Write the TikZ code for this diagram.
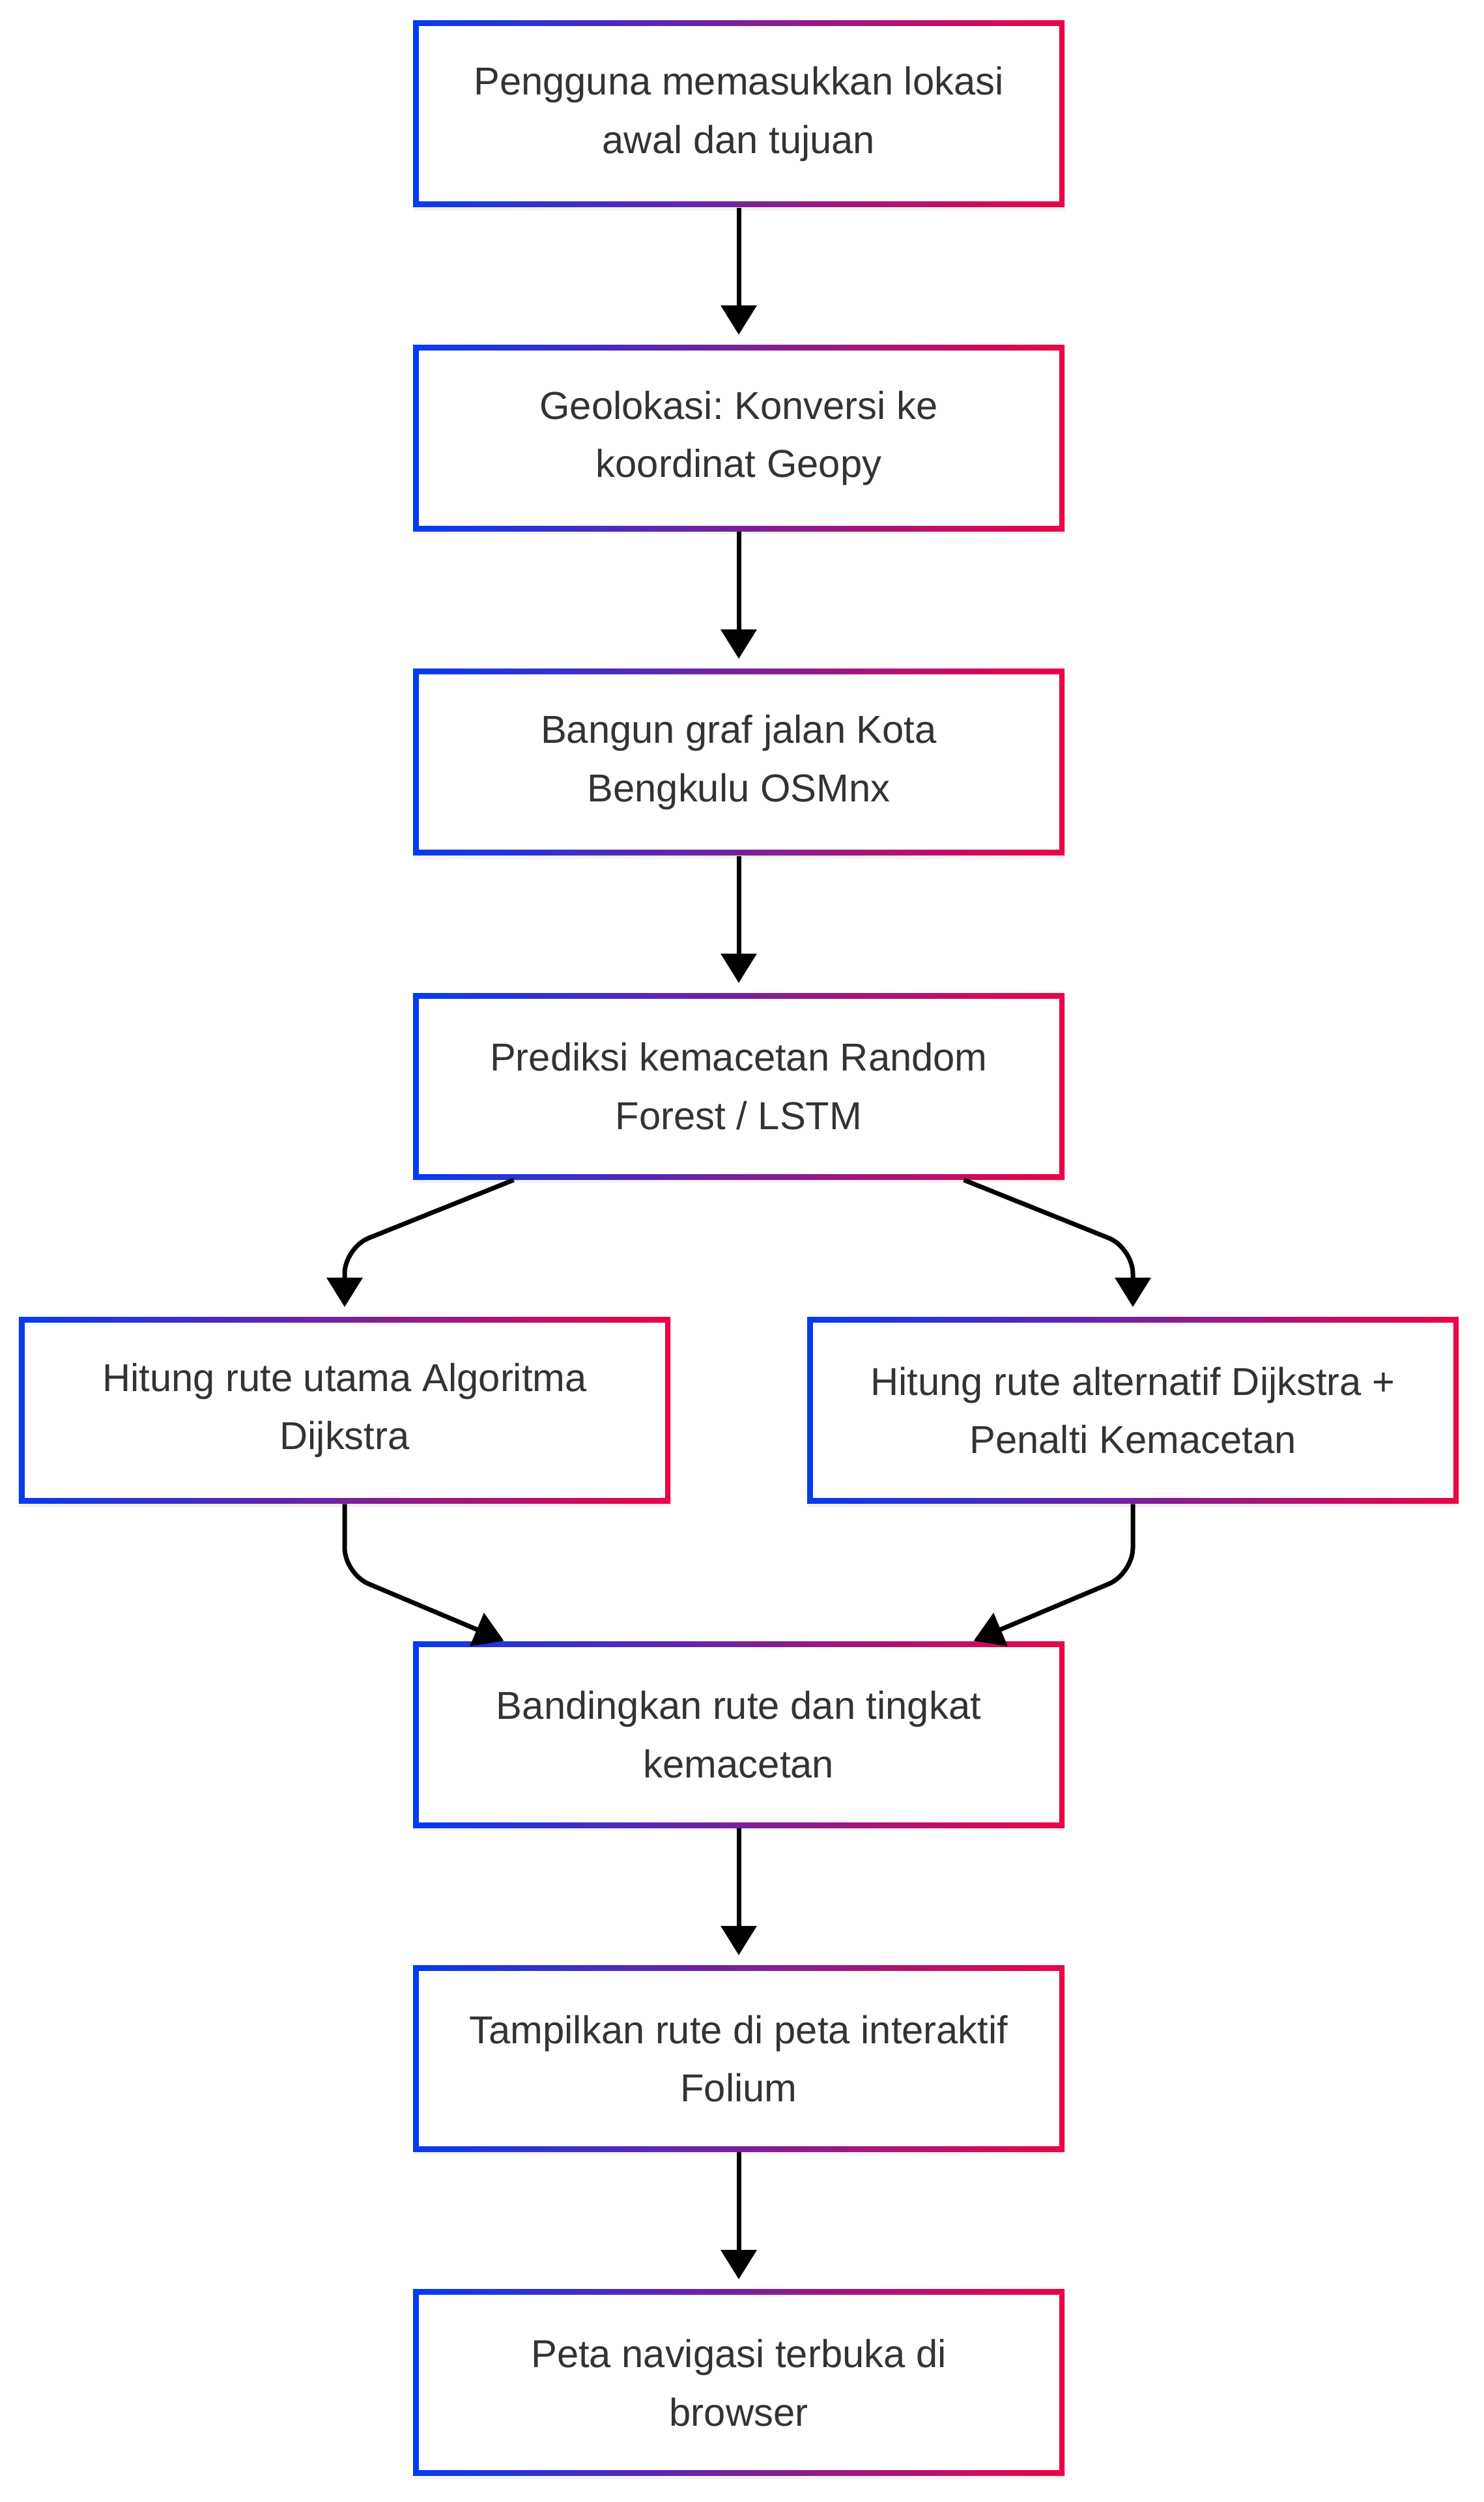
\documentclass[tikz,border=0pt]{standalone}
\usepackage{fontspec}
\setmainfont{Liberation Sans}
\usepackage{tikz}
\usetikzlibrary{arrows.meta, positioning, calc, shadows}
\frenchspacing
\definecolor{flowblue}{RGB}{5, 60, 240}
\definecolor{flowred}{RGB}{235, 5, 70}
\definecolor{flowtext}{RGB}{51, 51, 51}
\tikzset{
    stepbox/.style={rectangle, minimum width=10.0cm, minimum height=2.86cm, align=center,
        text=flowtext, font=\fontsize{17}{25.5}\selectfont,
        left color=flowblue, right color=flowred,
        path picture={\fill[white] ($(path picture bounding box.south west)+(0.085,0.085)$) rectangle ($(path picture bounding box.north east)-(0.085,0.085)$);},
        drop shadow={opacity=0.10, shadow xshift=0.01cm, shadow yshift=-0.05cm}},
    link/.style={draw, -{Triangle[width=0.54cm, length=0.45cm]}, black, line width=0.07cm, rounded corners=0.4cm},
    gap/.style={shorten >=0.15cm}
}
\begin{document}
\begin{tikzpicture}
        \fill[white] (0,0) rectangle (22.77,-38.4);
        \useasboundingbox (0,0) rectangle (22.77,-38.4);

        % Main flow
        \node[stepbox] (input) at (11.34,-1.75) {Pengguna memasukkan lokasi\\awal dan tujuan};
        \node[stepbox, below=2.1cm of input] (geo) {Geolokasi: Konversi ke\\koordinat Geopy};
        \node[stepbox, below=2.1cm of geo] (graf) {Bangun graf jalan Kota\\Bengkulu OSMnx};
        \node[stepbox, below=2.1cm of graf] (pred) {Prediksi kemacetan Random\\Forest / LSTM};

        % Two routes side by side
        \node[stepbox, below=2.1cm of pred, xshift=-6.05cm] (utama) {Hitung rute utama Algoritma\\Dijkstra};
        \node[stepbox, below=2.1cm of pred, xshift=6.05cm] (alt) {Hitung rute alternatif Dijkstra +\\Penalti Kemacetan};

        \node[stepbox, below=2.1cm of utama, xshift=6.05cm] (banding) {Bandingkan rute dan tingkat\\kemacetan};
        \node[stepbox, below=2.1cm of banding] (tampil) {Tampilkan rute di peta interaktif\\Folium};
        \node[stepbox, below=2.1cm of tampil] (peta) {Peta navigasi terbuka di\\browser};

        % Straight arrows
        \draw[link, gap] (input) -- (geo);
        \draw[link, gap] (geo) -- (graf);
        \draw[link, gap] (graf) -- (pred);
        \draw[link, gap] (banding) -- (tampil);
        \draw[link, gap] (tampil) -- (peta);

        % Split and merge
        \draw[link, gap] ($(pred.south west)!0.155!(pred.south east)$) -- ($(utama.north)+(0,1.06)$) -- (utama.north);
        \draw[link, gap] ($(pred.south west)!0.845!(pred.south east)$) -- ($(alt.north)+(0,1.06)$) -- (alt.north);
        \draw[link] (utama.south) -- ($(utama.south)+(0,-1.07)$) -- ($(banding.north west)!0.14!(banding.north east)$);
        \draw[link] (alt.south) -- ($(alt.south)+(0,-1.07)$) -- ($(banding.north west)!0.86!(banding.north east)$);
    \end{tikzpicture}
\end{document}
